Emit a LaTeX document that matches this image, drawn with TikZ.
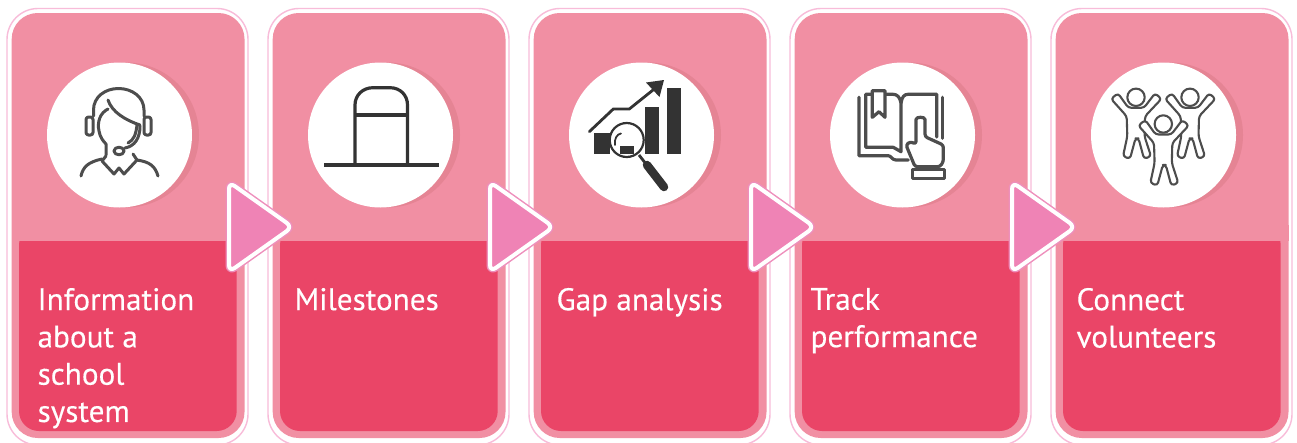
\documentclass[tikz,border=0pt]{standalone}
\usepackage{fontspec}
\setmainfont[FakeBold=0.25]{PT Sans}
\definecolor{cardlight}{HTML}{F18FA3}
\definecolor{carddark}{HTML}{EA4567}
\definecolor{cardline}{HTML}{F8BCD9}
\definecolor{shadowc}{HTML}{E58494}
\definecolor{trifill}{HTML}{EF83B5}
\definecolor{triline}{HTML}{EE8FBC}
\definecolor{iconA}{HTML}{4D4D4D}
\definecolor{iconB}{HTML}{333333}
\tikzset{
  x=1pt,y=-1pt,
  lbl/.style={anchor=north west,inner sep=0pt,outer sep=0pt,align=left,text=white,font=\fontsize{31.2}{37.3}\selectfont},
  iconline/.style={draw=iconA,line width=3pt,line cap=round,line join=round},
  bookline/.style={draw=iconA,line width=3.2pt,line cap=round,line join=round},
  kidline/.style={draw=iconA,line width=2.1pt,line join=round,fill=white},
  darkfill/.style={fill=iconB,draw=none},
  pics/kid/.style={code={
    \draw[kidline,rounded corners=3pt] (-7.7,10.5) -- (-18,-4) -- (-25,1.5) -- (-9.3,19) -- (-8.7,39) -- (-13,59) -- (-6,61.5) -- (-0.5,41) -- (2.5,41) -- (8,61.5) -- (15,59) -- (8.5,39) -- (9,19) -- (25.5,1.5) -- (19,-4) -- (8,10.5) -- cycle;
    \draw[kidline] (0,0) circle (8.7);
  }}
}
\begin{document}
\begin{tikzpicture}
\useasboundingbox (0,0) rectangle (1297,442);
\fill[white] (0,0) rectangle (1297,442);
\foreach \d in {0,261,522,783,1044}{
  \begin{scope}[xshift=\d pt]
    \draw[cardline,fill=white,line width=1.4pt,rounded corners=31pt] (7,8.5) rectangle (248,445);
    \fill[cardlight,rounded corners=26pt] (11.7,13) rectangle (244.5,438);
    \fill[carddark,rounded corners=20pt] (19,225) rectangle (236.7,431);
    \fill[cardlight] (11.7,225) rectangle (244.5,241);
    \fill[shadowc] (126.5,135) circle (72.5);
    \fill[white] (119.5,135) circle (72.5);
  \end{scope}
}
% icon 1
\draw[iconline] (93.5,116) -- (93.5,110) .. controls (93.5,97) and (105,88.5) .. (118.5,88.5) .. controls (132,88.5) and (144,97) .. (144,110) -- (144,116);
\draw[iconline,rounded corners=2.5pt] (93,117) -- (86,117) -- (86,135) -- (93,135) -- cycle;
\draw[iconline,rounded corners=2.5pt] (144,117) -- (151,117) -- (151,135) -- (144,135) -- cycle;
\draw[iconline] (108,100) .. controls (112,112) and (125,120) .. (140,125);
\draw[iconline] (108,109) .. controls (100,113) and (97,122) .. (99,131) .. controls (100,137) and (103,141) .. (106,144) -- (106,155);
\draw[iconline] (137,125) .. controls (136,134) and (134,140) .. (128,143);
\draw[iconline] (140,126) .. controls (140,138) and (135,146) .. (125,148);
\draw[iconline] (119,151) ellipse (5 and 3.8);
\draw[iconline] (81,176) .. controls (83,167) and (88,162) .. (102,159);
\draw[iconline] (106,156) -- (102,161) -- (114,174) -- (119,168) -- (124,174) -- (137,160) -- (133,154);
\draw[iconline] (137,160) .. controls (150,162) and (155,166) .. (158,176);
% icon 2
\draw[draw=iconB,line width=3.8pt] (324,165) -- (439,165);
\draw[draw=iconB,line width=3.2pt,line join=round] (355,165) -- (355,105) .. controls (355,95) and (363,87.7) .. (373,87.7) -- (390,87.7) .. controls (400,87.7) and (407.5,95) .. (407.5,105) -- (407.5,165);
\draw[draw=iconB,line width=3.6pt] (355,115) -- (407.5,115);
% icon 3
\fill[darkfill] (594,132.7) rectangle (609.5,154);
\fill[darkfill] (645.3,106.7) rectangle (659,154);
\fill[darkfill] (667,87.7) rectangle (681,154);
\draw[draw=iconB,line width=2.8pt,line cap=round,line join=miter] (589.3,131.7) -- (613.3,109) -- (629.3,109) -- (653,90);
\fill[darkfill] (664,80) -- (646,82.5) -- (659.5,97) -- cycle;
\draw[draw=iconB,line width=2.2pt,fill=white] (626.7,140) circle (17);
\fill[darkfill] (620,146) rectangle (634,154);
\draw[draw=iconB,line width=1.8pt,line cap=round] (615,145) .. controls (614,139) and (617,134) .. (621,133.5);
\draw[draw=iconB,line width=2.8pt] (639,155) -- (646,164);
\draw[draw=iconB,line width=8.5pt,line cap=round] (647,165) -- (664,187);
% icon 4
\draw[bookline] (859,97.3) -- (859,155.7) -- (888.3,155.7) .. controls (891,155.7) and (892,160) .. (896,160) -- (908.3,160);
\draw[bookline] (942.7,97.3) -- (942.7,138.3);
\draw[bookline] (872,94.3) -- (865.7,94.3) -- (865.7,147.3) -- (893.3,147.3) -- (901,151.7) -- (901,103) .. controls (900,97) and (897,94.3) .. (893,94.3) -- (885,94.3);
\draw[bookline] (901,103) .. controls (902,97) and (904,94.3) .. (908,94.3) -- (936.7,94.3) -- (936.7,137);
\draw[bookline,fill=white] (872.3,90.7) -- (885,90.7) -- (885,117.3) -- (879,111.7) -- (872.3,117.3) -- cycle;
\draw[bookline,fill=white,rounded corners=2.5pt] (916,144) -- (916,122) .. controls (916,116.5) and (925,116.5) .. (925,122) -- (925,136.7) -- (943.3,145) -- (943.3,161.7) -- (940,166.7) -- (915,166.7) -- (906,145) -- (910,141.7) -- cycle;
\draw[bookline] (912.7,169.3) rectangle (944.3,178.3);
% icon 5
\path (1136,97.3) pic {kid};
\path (1190,97.3) pic {kid};
\path (1163.3,124) pic {kid};
% arrows
\foreach \d in {0,261,522,783}{
  \begin{scope}[xshift=\d pt]
    \draw[triline,line width=7pt,line join=round,rounded corners=7pt] (229,182) -- (292.5,227) -- (229,272) -- cycle;
    \draw[white,fill=trifill,line width=4pt,line join=round,rounded corners=7pt] (229,182) -- (292.5,227) -- (229,272) -- cycle;
  \end{scope}
}
\node[lbl] (t1) at (37.6,288) {Information\\about a\\school\\system};
\node[lbl] (t2) at (294.6,288) {Milestones};
\node[lbl] (t3) at (556.6,288) {Gap analysis};
\node[lbl] (t4) at (810.6,288) {Track\\performance};
\node[lbl] (t5) at (1076.6,288) {Connect\\volunteers};
\end{tikzpicture}
\end{document}
